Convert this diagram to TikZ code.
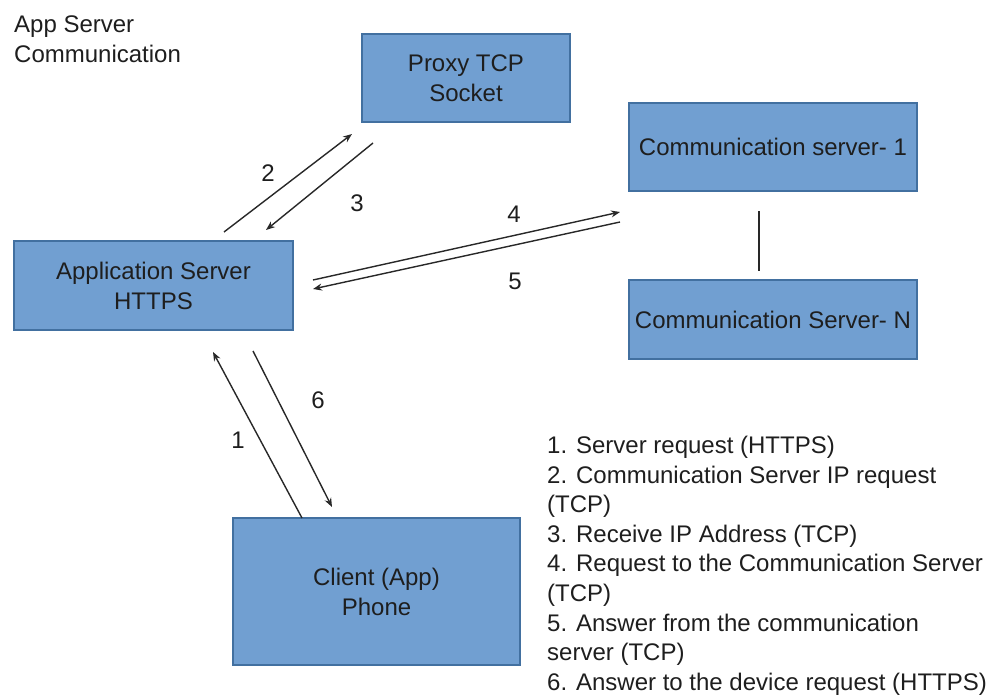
\documentclass[tikz,border=0pt]{standalone}
\usepackage{fontspec}
\setmainfont{Liberation Sans}
\usetikzlibrary{arrows.meta}
\definecolor{boxfill}{RGB}{113,159,209}
\definecolor{boxline}{RGB}{66,112,160}
\definecolor{txt}{RGB}{30,30,30}
\definecolor{wire}{RGB}{40,40,40}
\tikzset{
  srvbox/.style={draw=boxline, line width=1.2pt, fill=boxfill, inner sep=0pt,
    align=center, text=txt, font=\fontsize{24}{30}\selectfont},
  flow/.style={draw=wire, line width=1.4pt, -{Stealth[length=9pt,width=7pt]}},
  plainline/.style={draw=wire, line width=1.4pt},
  steplabel/.style={text=txt, font=\fontsize{24}{30}\selectfont, inner sep=0pt},
  plaintext/.style={text=txt, font=\fontsize{24}{29.6}\selectfont, inner sep=0pt, align=left}
}
\begin{document}
\begin{tikzpicture}[x=1pt,y=-1pt]
\useasboundingbox (0,0) rectangle (999,698);

% title
\node[plaintext, anchor=north west] (title) at (14,16) {App Server\\Communication};

% servers
\node[srvbox, minimum width=208pt, minimum height=88pt] (proxy) at (466,78) {Proxy TCP\\Socket};
\node[srvbox, minimum width=288pt, minimum height=88pt] (comm1) at (773,147) {Communication server- 1};
\node[srvbox, minimum width=288pt, minimum height=79pt] (commN) at (773,319.5) {Communication Server- N};
\node[srvbox, minimum width=279pt, minimum height=89pt] (app) at (153.5,285.5) {Application Server\\HTTPS};
\node[srvbox, minimum width=287pt, minimum height=147pt] (client) at (376.5,591.5) {Client (App)\\Phone};

% connector end points
\coordinate (a2s) at (224,232);  \coordinate (a2e) at (352,134);
\coordinate (a3s) at (373,143);  \coordinate (a3e) at (266,230);
\coordinate (a4s) at (313,280);  \coordinate (a4e) at (620,212);
\coordinate (a5s) at (620,222);  \coordinate (a5e) at (313,289);
\coordinate (a1s) at (302,518);  \coordinate (a1e) at (213,352);
\coordinate (a6s) at (253,351);  \coordinate (a6e) at (332,507);
\coordinate (linkA) at (759,211); \coordinate (linkB) at (759,271);

\draw[flow] (a2s) -- (a2e);
\draw[flow] (a3s) -- (a3e);
\draw[flow] (a4s) -- (a4e);
\draw[flow] (a5s) -- (a5e);
\draw[flow] (a1s) -- (a1e);
\draw[flow] (a6s) -- (a6e);
\draw[plainline] (linkA) -- (linkB);

% step numbers
\node[steplabel] (n2) at (268,173) {2};
\node[steplabel] (n3) at (357,203) {3};
\node[steplabel] (n4) at (514,214) {4};
\node[steplabel] (n5) at (515,281) {5};
\node[steplabel] (n6) at (318,400) {6};
\node[steplabel] (n1) at (238,440) {1};

% legend
\node[plaintext, anchor=north west] (legend) at (547,436) {1. Server request (HTTPS)\\
2. Communication Server IP request\\
(TCP)\\
3. Receive IP Address (TCP)\\
4. Request to the Communication Server\\
(TCP)\\
5. Answer from the communication\\
server (TCP)\\
6. Answer to the device request (HTTPS)};
\end{tikzpicture}
\end{document}
